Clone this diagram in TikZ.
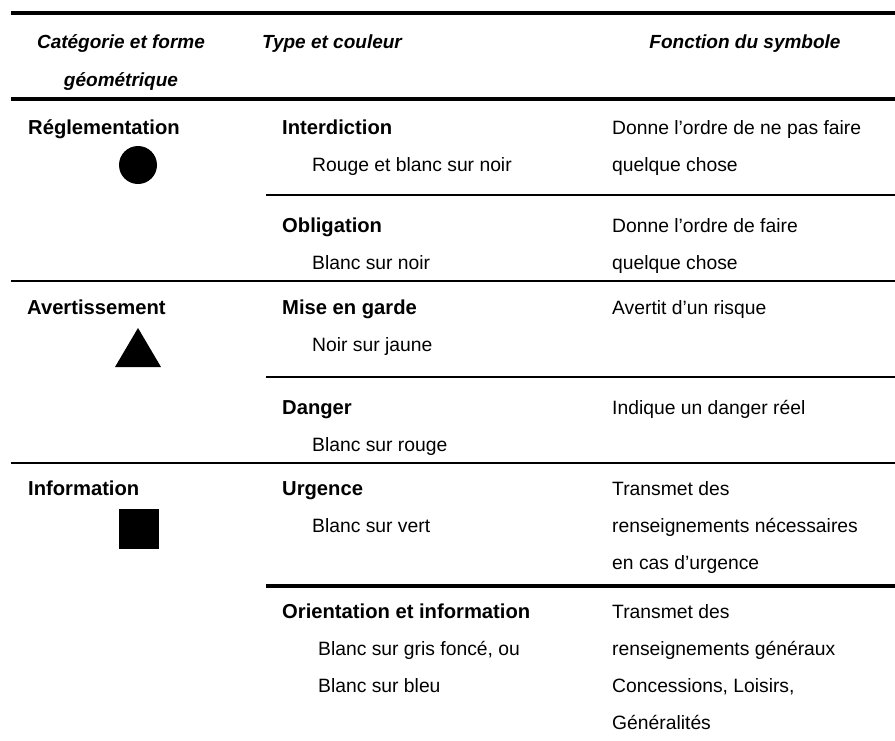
\documentclass[tikz,border=0pt]{standalone}
\usepackage{fontspec}
\setmainfont{Liberation Sans}
\begin{document}
\begin{tikzpicture}[x=1pt,y=-1pt,
  txt/.style={anchor=base west,inner sep=0pt,font=\fontsize{19.3}{23}\selectfont},
  bold/.style={txt,font=\fontsize{20.2}{24}\selectfont\bfseries},
  hdr/.style={anchor=base,inner sep=0pt,font=\fontsize{19}{23}\selectfont\bfseries\itshape},
  thick rule/.style={line width=4.2pt},
  thin rule/.style={line width=2.6pt},
  shapefill/.style={fill=black,draw=none}]
\useasboundingbox (0,0) rectangle (895,740);
% rules
\draw[thick rule] (11,13) -- (895,13);
\draw[thick rule] (11,99) -- (895,99);
\draw[thin rule] (266,195) -- (895,195);
\draw[thin rule] (11,281) -- (895,281);
\draw[thin rule] (266,377) -- (895,377);
\draw[thin rule] (11,463) -- (895,463);
\draw[thick rule] (266,586) -- (895,586);
% header
\node[hdr] (h1a) at (121,48) {Catégorie et forme};
\node[hdr] (h1b) at (121,86) {géométrique};
\node[hdr] (h2) at (332,48) {Type et couleur};
\node[hdr] (h3) at (745,48) {Fonction du symbole};
% Réglementation
\node[bold] (c1) at (28,134) {Réglementation};
\fill[shapefill] (138,165) circle (19);
\node[bold] (t1) at (282,134) {Interdiction};
\node[txt] (t1c) at (312,171) {Rouge et blanc sur noir};
\node[txt] (f1a) at (612,134) {Donne l’ordre de ne pas faire};
\node[txt] (f1b) at (612,171) {quelque chose};
\node[bold] (t2) at (282,232) {Obligation};
\node[txt] (t2c) at (312,269) {Blanc sur noir};
\node[txt] (f2a) at (612,232) {Donne l’ordre de faire};
\node[txt] (f2b) at (612,269) {quelque chose};
% Avertissement
\node[bold] (c2) at (27,314) {Avertissement};
\fill[shapefill] (138,328) -- (161,367) -- (115,367) -- cycle;
\node[bold] (t3) at (282,314) {Mise en garde};
\node[txt] (t3c) at (312,351) {Noir sur jaune};
\node[txt] (f3a) at (612,314) {Avertit d’un risque};
\node[bold] (t4) at (282,414) {Danger};
\node[txt] (t4c) at (312,451) {Blanc sur rouge};
\node[txt] (f4a) at (612,414) {Indique un danger réel};
% Information
\node[bold] (c3) at (28,495) {Information};
\fill[shapefill] (119,509) rectangle (159,549);
\node[bold] (t5) at (282,495) {Urgence};
\node[txt] (t5c) at (312,532) {Blanc sur vert};
\node[txt] (f5a) at (612,495) {Transmet des};
\node[txt] (f5b) at (612,532) {renseignements nécessaires};
\node[txt] (f5c) at (612,569) {en cas d’urgence};
\node[bold] (t6) at (282,618) {Orientation et information};
\node[txt] (t6c) at (318,655) {Blanc sur gris foncé, ou};
\node[txt] (t6d) at (318,692) {Blanc sur bleu};
\node[txt] (f6a) at (612,618) {Transmet des};
\node[txt] (f6b) at (612,655) {renseignements généraux};
\node[txt] (f6c) at (612,692) {Concessions, Loisirs,};
\node[txt] (f6d) at (612,729) {Généralités};
\end{tikzpicture}
\end{document}
